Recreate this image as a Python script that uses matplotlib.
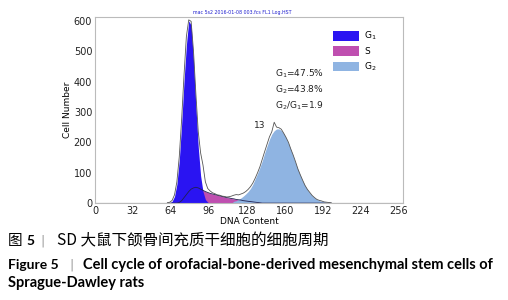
import numpy as np
import matplotlib.pyplot as plt
from matplotlib.patches import Patch

# DNA histogram, bins of 2 channels (centres 61..199)
channels = np.arange(61, 200, 2)

raw_counts = [1, 3, 9, 27, 70, 152, 275, 420, 548, 603,
              598, 500, 360, 235, 165, 125, 70, 48, 40, 34,
              31, 27, 26, 23, 22, 20, 21, 23, 26, 28,
              27, 30, 33, 38, 45, 54, 66, 82, 100, 120,
              145, 170, 194, 218, 235, 266, 250, 248, 243, 230,
              216, 200, 178, 158, 136, 112, 93, 75, 58, 45,
              35, 25, 18, 12, 9, 7, 4, 3, 2, 1]

g1_fit = [0, 1, 6, 22, 62, 140, 260, 400, 520, 600,
          585, 470, 320, 185, 90, 38, 12, 3, 0, 0,
          0, 0, 0, 0, 0, 0, 0, 0, 0, 0,
          0, 0, 0, 0, 0, 0, 0, 0, 0, 0,
          0, 0, 0, 0, 0, 0, 0, 0, 0, 0,
          0, 0, 0, 0, 0, 0, 0, 0, 0, 0,
          0, 0, 0, 0, 0, 0, 0, 0, 0, 0]

s_fit = [0, 0, 0, 0, 0, 2, 8, 18, 28, 38,
         46, 50, 52, 50, 46, 42, 38, 35, 32, 30,
         28, 26, 24, 22, 20, 18, 17, 15, 14, 12,
         11, 10, 8, 7, 6, 5, 4, 3, 2, 1,
         0, 0, 0, 0, 0, 0, 0, 0, 0, 0,
         0, 0, 0, 0, 0, 0, 0, 0, 0, 0,
         0, 0, 0, 0, 0, 0, 0, 0, 0, 0]

g2_fit = [0, 0, 0, 0, 0, 0, 0, 0, 0, 0,
          0, 0, 0, 0, 0, 0, 0, 0, 0, 0,
          0, 0, 0, 0, 0, 0, 0, 0, 6, 8,
          12, 17, 23, 30, 38, 48, 62, 80, 98, 118,
          140, 165, 188, 210, 227, 238, 244, 244, 239, 229,
          214, 196, 176, 154, 132, 111, 91, 73, 57, 44,
          33, 24, 17, 12, 8, 6, 4, 2, 1, 0]

phase_labels = ["G$_1$", "S", "G$_2$"]
phase_colors = ["#2a14f2", "#bf4fb0", "#8fb4e2"]
stats_text = ["G$_1$=47.5%", "G$_2$=43.8%", "G$_2$/G$_1$=1.9"]

x_ticks = [0, 32, 64, 96, 128, 160, 192, 224, 256]
y_ticks = [0, 100, 200, 300, 400, 500, 600]

fig = plt.figure(figsize=(5.08, 3.0), dpi=100)
ax = fig.add_axes([0.187, 0.323, 0.606, 0.620])

ax.fill_between(channels, s_fit, color=phase_colors[1], lw=0)
ax.fill_between(channels, g1_fit, color=phase_colors[0], lw=0)
ax.fill_between(channels, g2_fit, color=phase_colors[2], lw=0)
ax.plot(channels, s_fit, color="#202050", lw=0.6)
ax.plot(channels, raw_counts, color="#555555", lw=0.6)
ax.plot([0, 61], [0, 0], color="#777777", lw=0.8)
ax.plot([199, 259], [0, 0], color="#777777", lw=0.8)

ax.set_xlim(0, 259.4)
ax.set_ylim(0, 612)
ax.set_xticks(x_ticks)
ax.set_yticks(y_ticks)
ax.tick_params(labelsize=7, length=0, pad=2, colors="#222222")
for sp in ax.spines.values():
    sp.set_color("#bbbbbb")
    sp.set_linewidth(0.8)
ax.set_xlabel("DNA Content", fontsize=6.5, labelpad=1)
ax.set_ylabel("Cell Number", fontsize=6.5, labelpad=1)

ax.text(83, 618, "mac 5s2 2016-01-08 003.fcs FL1 Log.HST", fontsize=3.4,
        color="#2020d0", ha="left", va="bottom")

leg = ax.legend(handles=[Patch(facecolor=c, edgecolor="none") for c in phase_colors],
                labels=phase_labels, loc="upper left", bbox_to_anchor=(0.748, 0.975),
                frameon=False, fontsize=6.5, handlelength=2.8, handleheight=1.3,
                labelspacing=0.45, handletextpad=0.6)

for i, t in enumerate(stats_text):
    ax.text(152, 425 - i * 53, t, fontsize=6.5, color="#222222", va="center")
ax.text(134, 255, "13", fontsize=6.5, color="#222222", va="center")

# caption
cjk = ["Noto Sans CJK SC", "DejaVu Sans"]
fig.text(8 / 508, 1 - 241 / 300, "图", fontsize=10.5, family=cjk, va="center")
fig.text(26 / 508, 1 - 241 / 300, "5", fontsize=10, family="Lato", weight="bold", va="center")
fig.text(40 / 508, 1 - 241 / 300, "|", fontsize=9, color="#999999", va="center")
fig.text(57 / 508, 1 - 241 / 300, "SD 大鼠下颌骨间充质干细胞的细胞周期", fontsize=11.2,
         family=cjk, va="center")
fig.text(8 / 508, 1 - 265 / 300, "Figure 5", fontsize=10, family="Lato", weight="bold", va="center")
fig.text(69 / 508, 1 - 265 / 300, "|", fontsize=9, color="#999999", va="center")
fig.text(83 / 508, 1 - 265 / 300,
         "Cell cycle of orofacial-bone-derived mesenchymal stem cells of",
         fontsize=10.5, family="Lato", weight="bold", va="center")
fig.text(8 / 508, 1 - 283 / 300, "Sprague-Dawley rats", fontsize=10.5, family="Lato",
         weight="bold", va="center")

fig.savefig("out.png", dpi=100)
